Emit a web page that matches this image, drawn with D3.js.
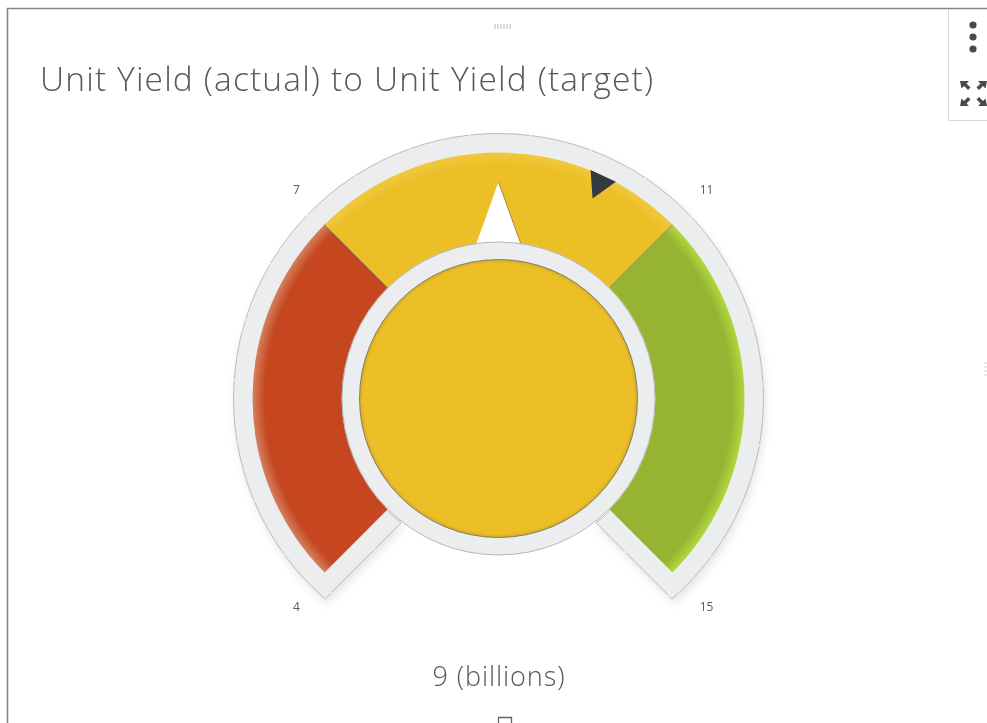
<!DOCTYPE html>
<html><head><meta charset="utf-8">
<script src="https://cdnjs.cloudflare.com/ajax/libs/d3/7.8.5/d3.min.js"></script>
<style>html,body{margin:0;padding:0;background:#fff;overflow:hidden}svg{display:block}</style>
</head><body><svg id="c" width="987" height="723"></svg>
<script>
const titleText = "Unit Yield (actual) to Unit Yield (target)";
const bandEdges = [4, 7, 11, 15];
const bandColors = ["#C5461F", "#EDBF27", "#96B432"];
const bandHighlights = ["#D4805F", "#EFC93F", "#B0D83C"];
const actualValue = 9;
const targetValue = 10.12;
const valueLabel = "9 (billions)";
const tickLabels = ["4", "7", "11", "15"];

const svg = d3.select("#c");
const cx = 498.5, cy = 398.5;
const rad = d => d * Math.PI / 180;
const angle = d3.scaleLinear().domain(bandEdges).range([-135, -45, 45, 135]);
const colorOf = d3.scaleThreshold().domain(bandEdges.slice(1, 3)).range(bandColors);
const font = "'Open Sans', Lato, sans-serif";

const defs = svg.append("defs");
const soft = defs.append("filter").attr("id", "soft");
soft.append("feGaussianBlur").attr("stdDeviation", 0.45);
const shadow = defs.append("filter").attr("id", "shadow").attr("x", "-10%").attr("y", "-10%").attr("width", "125%").attr("height", "125%");
shadow.append("feDropShadow").attr("dx", 2).attr("dy", 5).attr("stdDeviation", 4).attr("flood-color", "#000").attr("flood-opacity", 0.1);

bandColors.forEach((c, i) => {
  const g = defs.append("radialGradient").attr("id", "band" + i)
    .attr("gradientUnits", "userSpaceOnUse").attr("cx", 0).attr("cy", 0).attr("r", 246);
  g.append("stop").attr("offset", "0.95").attr("stop-color", c);
  g.append("stop").attr("offset", "1").attr("stop-color", bandHighlights[i]);
});
const cg = defs.append("radialGradient").attr("id", "core");
cg.append("stop").attr("offset", "0.97").attr("stop-color", colorOf(actualValue));
cg.append("stop").attr("offset", "1").attr("stop-color", "#D4AB28");

// panel chrome
svg.append("path").attr("d", "M987 8.5H7.5V723").attr("fill", "none").attr("stroke", "#858585").attr("stroke-width", 1.6);
svg.append("path").attr("d", "M948.5 9V120.5H987").attr("fill", "none").attr("stroke", "#d9d9d9");
[25, 37, 49].forEach(y => svg.append("circle").attr("cx", 973).attr("cy", y).attr("r", 3.6).attr("fill", "#4a4a4a"));
svg.append("path").attr("fill", "#4a4a4a").attr("filter", "url(#soft)").attr("d",
  "M960 81h9l-2.5 2.5 4 4-2.5 2.5-4-4-2.5 2.5z M987 81h-9l2.5 2.5-4 4 2.5 2.5 4-4 2.5 2.5z M960 106h9l-2.5-2.5 4-4-2.5-2.5-4 4-2.5-2.5z M987 106h-9l2.5-2.5-4-4 2.5-2.5 4 4 2.5-2.5z");
svg.append("g").attr("fill", "#dcdcdc").selectAll("rect").data([494, 497, 500, 503, 506, 509]).join("rect")
  .attr("x", d => d).attr("y", 24).attr("width", 2).attr("height", 5);
svg.append("g").attr("fill", "#e8e8e8").selectAll("rect").data([362, 366, 370, 374]).join("rect")
  .attr("x", 984).attr("y", d => d).attr("width", 5).attr("height", 2);
svg.append("path").attr("d", "M498.5 723V717.5H511.5V723").attr("fill", "none").attr("stroke", "#666").attr("stroke-width", 1.3);

// title
svg.append("text").attr("x", 40).attr("y", 91).attr("font-family", font).attr("font-weight", 300)
  .attr("font-size", 33.5).attr("fill", "#55585c").attr("textLength", 613).attr("filter", "url(#soft)").text(titleText);

const gauge = svg.append("g").attr("transform", `translate(${cx},${cy})`);
const pt = (deg, r) => d3.pointRadial(rad(deg), r);

// backing plate
const rOuter = 265, rInnerPlate = 158, rim = 19;
const endO = angle(bandEdges[3]) + Math.asin(rim / rOuter) * 180 / Math.PI;
const endI = angle(bandEdges[3]) + Math.asin(rim / rInnerPlate) * 180 / Math.PI;
const plate = d3.path();
plate.arc(0, 0, rOuter, rad(-endO - 90), rad(endO - 90));
{ const p = pt(endI, rInnerPlate); plate.lineTo(p[0], p[1]); }
plate.arc(0, 0, rInnerPlate, rad(endI - 90), rad(-endI - 90), true);
plate.closePath();
gauge.append("path").attr("d", plate.toString()).attr("fill", "#ECEDEF").attr("filter", "url(#shadow)");
gauge.append("path").attr("d", plate.toString()).attr("fill", "none").attr("stroke", "#6d6d6d").attr("stroke-width", 0.6).attr("stroke-dasharray", "60 1.5").attr("stroke-opacity", 0.7);

// bands
const arc = d3.arc().innerRadius(157).outerRadius(246);
const bands = d3.pairs(bandEdges);
gauge.selectAll("path.band").data(bands).join("path").attr("class", "band")
  .attr("d", d => arc({ startAngle: rad(angle(d[0])), endAngle: rad(angle(d[1])) }))
  .attr("fill", (d, i) => `url(#band${i})`);
gauge.selectAll("line.sep").data(bandEdges.slice(1, 3)).join("line").attr("class", "sep")
  .each(function (d) {
    const a = pt(angle(d), 157), b = pt(angle(d), 246);
    d3.select(this).attr("x1", a[0]).attr("y1", a[1]).attr("x2", b[0]).attr("y2", b[1]);
  }).attr("stroke", "#8c7f3a").attr("stroke-width", 1).attr("stroke-opacity", 0.7);

// actual pointer
const pointer = (v, r0, r1, hw) => {
  const t = rad(angle(v)), u = [Math.cos(t), Math.sin(t)];
  const tip = pt(angle(v), r1), base = pt(angle(v), r0);
  return d3.line()([tip, [base[0] + u[0] * hw, base[1] + u[1] * hw], [base[0] - u[0] * hw, base[1] - u[1] * hw]]);
};
gauge.append("path").attr("d", pointer(actualValue, 150, 216.5, 24)).attr("fill", "#fff")
  .attr("stroke", "#8a7a30").attr("stroke-width", 0.8);

// inner ring and core
gauge.append("circle").attr("r", 156.5).attr("fill", "#ECEDEF").attr("stroke", "#8a8a8a").attr("stroke-width", 0.6);
gauge.append("circle").attr("r", 139).attr("fill", "url(#core)").attr("stroke", "#6f6a55").attr("stroke-width", 0.8);

// target marker
gauge.append("path").attr("d", pointer(targetValue, 246, 221, 14)).attr("fill", "#343a42");

// tick labels
svg.append("g").attr("font-family", font).attr("font-size", 12).attr("fill", "#5a5a5a").attr("text-anchor", "middle").attr("filter", "url(#soft)")
  .selectAll("text").data(bandEdges).join("text")
  .attr("x", d => cx + pt(angle(d), 290)[0] + 3)
  .attr("y", d => cy + pt(angle(d), 293)[1] * 1.005 + 4)
  .text((d, i) => tickLabels[i]);

// value
svg.append("text").attr("x", cx).attr("y", 686).attr("text-anchor", "middle").attr("font-family", font).attr("font-weight", 300)
  .attr("font-size", 27).attr("textLength", 132).attr("fill", "#55585c").attr("filter", "url(#soft)").text(valueLabel);
</script></body></html>
